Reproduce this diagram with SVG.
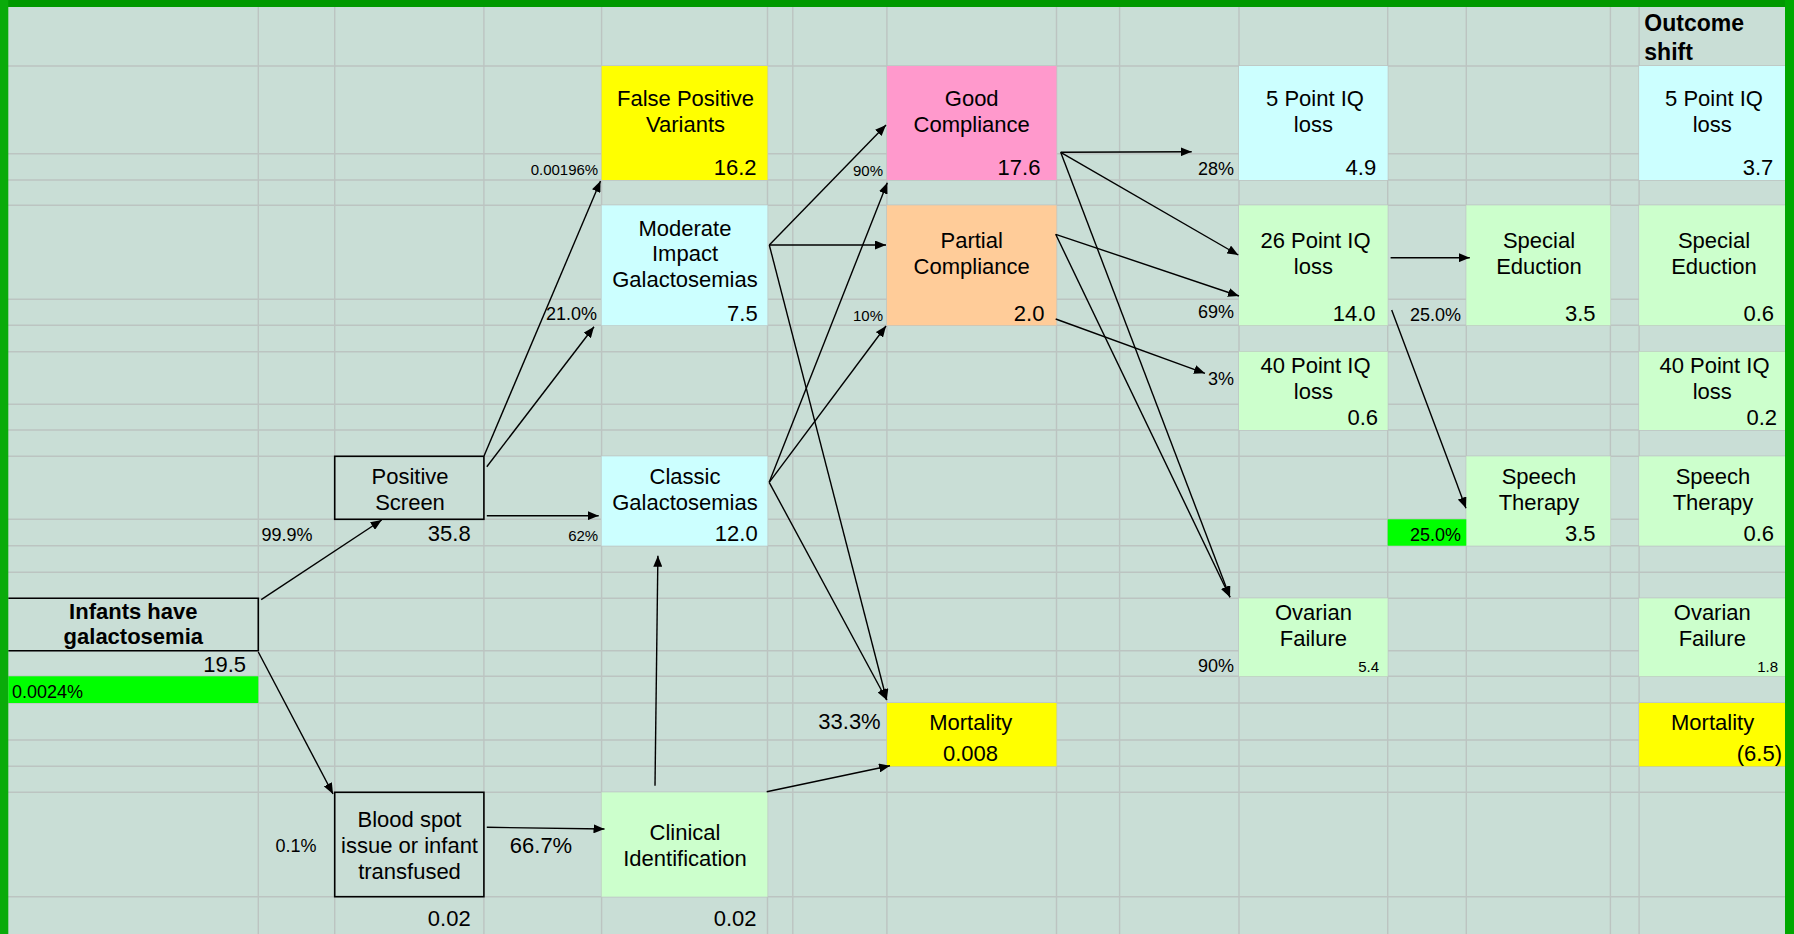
<svg xmlns="http://www.w3.org/2000/svg" width="1794" height="934" viewBox="0 0 1794 934">
<defs>
<marker id="ah" markerUnits="userSpaceOnUse" markerWidth="12" markerHeight="9" refX="11" refY="4.5" orient="auto">
<path d="M0,0 L11,4.5 L0,9 z" fill="#000"/>
</marker>
<style>
.t{font-family:"Liberation Sans",Arial,sans-serif;font-size:22px;fill:#000}
.c{text-anchor:middle}
.r{text-anchor:end}
.s15{font-size:15px}
.s18{font-size:18px}
.b{font-weight:bold}
.bx{stroke:#000;stroke-width:1.6;fill:none}
.cy{fill:#ccffff}
.lg{fill:#ccffcc}
.ye{fill:#ffff00}
.pk{fill:#ff99cc}
.or{fill:#ffcc99}
.gr{fill:#00ff00}
.conn line{stroke:#000;stroke-width:1.4;marker-end:url(#ah)}
</style>
</defs>
<rect x="0" y="0" width="1794" height="934" fill="#c9ded6"/>
<g id="grid" stroke="#bcc4c1" stroke-width="1.4" fill="none">
<path d="M258.3,7V934M334.7,7V934M483.9,7V934M601.6,7V934M767.5,7V934M792.8,7V934M886.9,7V934M1056.5,7V934M1119.6,7V934M1239,7V934M1387.7,7V934M1466.3,7V934M1610.4,7V934M1639.1,7V934"/>
<path d="M8,66H1785M8,153.7H1785M8,180H1785M8,205.3H1785M8,299.3H1785M8,325.3H1785M8,351.7H1785M8,404.3H1785M8,430H1785M8,456.3H1785M8,519.3H1785M8,545.7H1785M8,572.3H1785M8,598.3H1785M8,650.7H1785M8,676.3H1785M8,703H1785M8,740H1785M8,766.3H1785M8,792.3H1785M8,896.7H1785"/>
</g>

<g id="infants">
<path d="M8.3,598.3H258.3V650.7H8.3" class="bx"/>
<text class="t b c" x="133.3" y="619">Infants have</text>
<text class="t b c" x="133.3" y="644.3">galactosemia</text>
<text class="t r" x="246" y="672">19.5</text>
<rect x="8.3" y="676.3" width="250" height="26.7" class="gr"/>
<text class="t s18" x="12" y="697.5">0.0024%</text>
</g>
<g id="positive-screen">
<rect x="334.7" y="456.3" width="149.2" height="63" class="bx"/>
<text class="t c" x="410" y="484">Positive</text>
<text class="t c" x="410" y="509.7">Screen</text>
<text class="t r" x="470.7" y="541.3">35.8</text>
</g>
<g id="blood-spot">
<rect x="334.7" y="792.3" width="149.2" height="104.4" class="bx"/>
<text class="t c" x="409.5" y="827.3">Blood spot</text>
<text class="t c" x="409.5" y="853.3">issue or infant</text>
<text class="t c" x="409.5" y="879">transfused</text>
<text class="t r" x="470.7" y="925.7">0.02</text>
</g>
<g id="false-positive">
<rect x="601.6" y="66" width="165.9" height="114" class="ye"/>
<text class="t c" x="685.5" y="106">False Positive</text>
<text class="t c" x="685.5" y="131.7">Variants</text>
<text class="t r" x="756.6" y="175">16.2</text>
</g>
<g id="moderate">
<rect x="601.6" y="205.3" width="165.9" height="120" class="cy"/>
<text class="t c" x="685" y="235.7">Moderate</text>
<text class="t c" x="685" y="261.3">Impact</text>
<text class="t c" x="685" y="286.7">Galactosemias</text>
<text class="t r" x="757.7" y="320.7">7.5</text>
</g>
<g id="classic">
<rect x="601.6" y="456.3" width="165.9" height="89.4" class="cy"/>
<text class="t c" x="685" y="484">Classic</text>
<text class="t c" x="685" y="509.7">Galactosemias</text>
<text class="t r" x="757.7" y="541.3">12.0</text>
</g>
<g id="clinical">
<rect x="601.6" y="792.3" width="165.9" height="104.4" class="lg"/>
<text class="t c" x="685" y="840">Clinical</text>
<text class="t c" x="685" y="865.7">Identification</text>
<text class="t r" x="756.6" y="925.7">0.02</text>
</g>
<g id="good-compliance">
<rect x="886.9" y="66" width="169.6" height="114" class="pk"/>
<text class="t c" x="971.7" y="106">Good</text>
<text class="t c" x="971.7" y="131.7">Compliance</text>
<text class="t r" x="1040.4" y="175">17.6</text>
</g>
<g id="partial-compliance">
<rect x="886.9" y="205.3" width="169.6" height="120" class="or"/>
<text class="t c" x="971.7" y="248.3">Partial</text>
<text class="t c" x="971.7" y="274.3">Compliance</text>
<text class="t r" x="1044.4" y="320.7">2.0</text>
</g>
<g id="mortality">
<rect x="886.9" y="703" width="169.6" height="63.3" class="ye"/>
<text class="t c" x="970.8" y="729.7">Mortality</text>
<text class="t c" x="970.5" y="760.7">0.008</text>
</g>
<g id="iq5">
<rect x="1239" y="66" width="148.7" height="114" class="cy"/>
<text class="t c" x="1315" y="106">5 Point IQ</text>
<text class="t c" x="1313.4" y="131.7">loss</text>
<text class="t r" x="1376.2" y="175">4.9</text>
</g>
<g id="iq26">
<rect x="1239" y="205.3" width="148.7" height="120" class="lg"/>
<text class="t c" x="1315.5" y="248.3">26 Point IQ</text>
<text class="t c" x="1313.4" y="274.3">loss</text>
<text class="t r" x="1375.5" y="320.7">14.0</text>
</g>
<g id="iq40">
<rect x="1239" y="351.7" width="148.7" height="78.3" class="lg"/>
<text class="t c" x="1315.5" y="373.3">40 Point IQ</text>
<text class="t c" x="1313.4" y="399.3">loss</text>
<text class="t r" x="1378" y="425">0.6</text>
</g>
<g id="ovarian">
<rect x="1239" y="598.3" width="148.7" height="78" class="lg"/>
<text class="t c" x="1313.4" y="619.7">Ovarian</text>
<text class="t c" x="1313.4" y="645.7">Failure</text>
<text class="t s15 r" x="1379" y="672.3">5.4</text>
</g>
<g id="special-education">
<rect x="1466.3" y="205.3" width="144.1" height="120" class="lg"/>
<text class="t c" x="1539" y="248.3">Special</text>
<text class="t c" x="1539" y="274.3">Eduction</text>
<text class="t r" x="1595.5" y="320.7">3.5</text>
</g>
<g id="speech-therapy">
<rect x="1466.3" y="456.3" width="144.1" height="89.4" class="lg"/>
<text class="t c" x="1539" y="484">Speech</text>
<text class="t c" x="1539" y="509.7">Therapy</text>
<text class="t r" x="1595.5" y="541.3">3.5</text>
</g>
<g id="speech-pct">
<rect x="1387.7" y="519.3" width="78.6" height="26.4" class="gr"/>
<text class="t s18 r" x="1461" y="540.7">25.0%</text>
</g>
<g id="outcome-shift">
<text class="t b" x="1644.3" y="30.7" style="font-size:23px">Outcome</text>
<text class="t b" x="1644.3" y="60" style="font-size:23px">shift</text>
</g>
<g id="out-iq5">
<rect x="1639.1" y="66" width="146.4" height="114" class="cy"/>
<text class="t c" x="1714" y="106">5 Point IQ</text>
<text class="t c" x="1712.3" y="131.7">loss</text>
<text class="t r" x="1773.3" y="175">3.7</text>
</g>
<g id="out-special">
<rect x="1639.1" y="205.3" width="146.4" height="120" class="lg"/>
<text class="t c" x="1714" y="248.3">Special</text>
<text class="t c" x="1714" y="274.3">Eduction</text>
<text class="t r" x="1774" y="320.7">0.6</text>
</g>
<g id="out-iq40">
<rect x="1639.1" y="351.7" width="146.4" height="78.3" class="lg"/>
<text class="t c" x="1714.5" y="373.3">40 Point IQ</text>
<text class="t c" x="1712.3" y="399.3">loss</text>
<text class="t r" x="1777" y="425">0.2</text>
</g>
<g id="out-speech">
<rect x="1639.1" y="456.3" width="146.4" height="89.4" class="lg"/>
<text class="t c" x="1713" y="484">Speech</text>
<text class="t c" x="1713" y="509.7">Therapy</text>
<text class="t r" x="1774" y="541.3">0.6</text>
</g>
<g id="out-ovarian">
<rect x="1639.1" y="598.3" width="146.4" height="78" class="lg"/>
<text class="t c" x="1712.3" y="619.7">Ovarian</text>
<text class="t c" x="1712.3" y="645.7">Failure</text>
<text class="t s15 r" x="1778" y="672.3">1.8</text>
</g>
<g id="out-mortality">
<rect x="1639.1" y="703" width="146.4" height="63.3" class="ye"/>
<text class="t c" x="1712.6" y="729.7">Mortality</text>
<text class="t r" x="1782" y="760.7">(6.5)</text>
</g>

<g id="labels">
<text class="t s18" x="261.5" y="540.7">99.9%</text>
<text class="t s18" x="275.5" y="852.3">0.1%</text>
<text class="t" x="509.8" y="852.5">66.7%</text>
<text class="t s15 r" x="598.2" y="175">0.00196%</text>
<text class="t s18 r" x="597" y="319.5">21.0%</text>
<text class="t s15 r" x="598.2" y="540.5">62%</text>
<text class="t s15 r" x="883" y="175.5">90%</text>
<text class="t s15 r" x="883" y="321">10%</text>
<text class="t r" x="880.7" y="729.3">33.3%</text>
<text class="t s18 r" x="1234" y="175">28%</text>
<text class="t s18 r" x="1234" y="318.3">69%</text>
<text class="t s18 r" x="1234" y="385">3%</text>
<text class="t s18 r" x="1234" y="672">90%</text>
<text class="t s18 r" x="1461" y="320.7">25.0%</text>
</g>

<g id="connectors" class="conn">
<line x1="261.2" y1="599.7" x2="381.7" y2="520"/>
<line x1="258.3" y1="652" x2="333" y2="794"/>
<line x1="484" y1="456" x2="600.5" y2="181"/>
<line x1="486.8" y1="466.7" x2="594" y2="326.7"/>
<line x1="486.8" y1="515.7" x2="598.7" y2="515.7"/>
<line x1="486.8" y1="827.3" x2="604.5" y2="829"/>
<line x1="655" y1="785.7" x2="657.9" y2="555.7"/>
<line x1="766.7" y1="791.7" x2="890" y2="765.7"/>
<line x1="769.3" y1="245" x2="886" y2="125"/>
<line x1="769.3" y1="245" x2="886" y2="245"/>
<line x1="769.3" y1="245" x2="886.7" y2="700"/>
<line x1="769.2" y1="482.3" x2="887.3" y2="182.7"/>
<line x1="769.2" y1="482.3" x2="886" y2="326"/>
<line x1="769.2" y1="482.3" x2="886.7" y2="700"/>
<line x1="1060.7" y1="152.3" x2="1191.7" y2="151.7"/>
<line x1="1060.7" y1="152.3" x2="1238.3" y2="255"/>
<line x1="1060.7" y1="152.3" x2="1230" y2="597.3"/>
<line x1="1055.7" y1="234.3" x2="1239" y2="296"/>
<line x1="1055.7" y1="234.3" x2="1230" y2="597.3"/>
<line x1="1055.7" y1="319" x2="1205" y2="373.3"/>
<line x1="1390.6" y1="257.7" x2="1469.8" y2="257.7"/>
<line x1="1391.7" y1="310" x2="1466" y2="508.3"/>
</g>

<g id="frame">
<rect x="0" y="0" width="1794" height="7" fill="#009900"/>
<rect x="0" y="0" width="8.3" height="934" fill="#0aab0a"/>
<rect x="1785" y="0" width="9" height="934" fill="#00a800"/>
</g>
</svg>
